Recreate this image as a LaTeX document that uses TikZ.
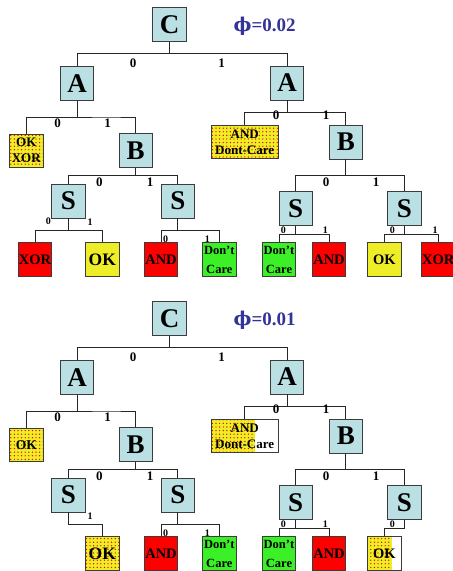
\documentclass[tikz,border=0pt]{standalone}
\usepackage{fontspec}
\setmainfont{Liberation Serif}
\newfontfamily\phifont{DejaVu Serif}
\usetikzlibrary{calc,patterns.meta}
\definecolor{boxblue}{RGB}{186,224,227}
\definecolor{boxborder}{RGB}{60,60,60}
\definecolor{leafred}{RGB}{255,0,0}
\definecolor{leafgreen}{RGB}{60,240,40}
\definecolor{leafyellow}{RGB}{238,238,40}
\definecolor{phiblue}{RGB}{51,51,153}
\newcommand\fs[2]{\fontsize{#1}{#2}\selectfont}
\tikzset{
  varbox/.style={draw=boxborder, line width=0.8pt, fill=boxblue, minimum width=33.5pt,
    minimum height=34pt, inner sep=0pt, font=\fs{27}{27}\bfseries},
  leafbox/.style={draw=boxborder, line width=0.8pt, minimum width=33.4pt, minimum height=34pt,
    inner sep=0pt, align=center, font=\bfseries},
  redleaf/.style={leafbox, fill=leafred},
  greenleaf/.style={leafbox, fill=leafgreen},
  yellowleaf/.style={leafbox, fill=leafyellow},
  dotleaf/.style={leafbox, fill=white, path picture={
      \fill[leafyellow] (path picture bounding box.north west) rectangle
        ($(path picture bounding box.south west)!#1!(path picture bounding box.south east)$);
      \fill[pattern={Dots[distance=3.6pt,radius=0.7pt]}, pattern color=red!90!black]
        (path picture bounding box.north west) rectangle
        ($(path picture bounding box.south west)!#1!(path picture bounding box.south east)$);}},
  dotleaf/.default=1,
  conn/.style={line width=0.8pt, black!85},
  lab/.style={inner sep=0pt, font=\fs{13}{13}\bfseries},
  slab/.style={inner sep=0pt, font=\fs{10}{10}\bfseries},
  philab/.style={inner sep=0pt, text=phiblue, font=\fs{19}{19}\bfseries},
}
\begin{document}
\begin{tikzpicture}[x=1pt,y=-1pt]
\useasboundingbox (0,0) rectangle (453,571);

% ---------------- top tree ----------------
\node[philab] (phiA) at (264.7,26.5) {{\phifont ϕ}=0.02};
\node[varbox] (C)  at (169.5,24.3) {C};
\node[varbox] (A1) at (77,83.3) {A};
\node[varbox] (A2) at (287,83) {A};
\node[dotleaf, minimum width=34pt, minimum height=33.3pt, font=\fs{13}{16}\bfseries] (OX) at (26.3,150.7) {OK\\XOR};
\node[varbox] (B1) at (135.7,150.7) {B};
\node[dotleaf, minimum width=67.3pt, minimum height=33.4pt, font=\fs{13}{16}\bfseries] (ADC) at (244.7,142) {AND\\Dont-Care};
\node[varbox] (B2) at (345.8,142) {B};
\node[varbox] (S11) at (68.5,201) {S};
\node[varbox] (S12) at (177.8,201) {S};
\node[varbox] (S21) at (295.7,208.7) {S};
\node[varbox] (S22) at (404.3,208.7) {S};
\node[redleaf, font=\fs{14.5}{14.5}\bfseries] (X1) at (35,259.5) {XOR};
\node[yellowleaf, font=\fs{17.5}{17.5}\bfseries] (K1) at (102.3,259.5) {OK};
\node[redleaf, font=\fs{14.5}{14.5}\bfseries] (N1) at (161,259.5) {AND};
\node[greenleaf, font=\fs{12.5}{19}\bfseries] (D1) at (219.3,259.5) {Don't\\Care};
\node[greenleaf, font=\fs{12.5}{19}\bfseries] (D2) at (279,259.7) {Don't\\Care};
\node[redleaf, font=\fs{14.5}{14.5}\bfseries] (N2) at (329,259.7) {AND};
\node[yellowleaf, font=\fs{14.5}{14.5}\bfseries] (K2) at (384.3,259.7) {OK};
\node[redleaf, font=\fs{14.5}{14.5}\bfseries] (X2) at (438.3,259.7) {XOR};

\foreach \p/\k in {C/A1,C/A2,A1/OX,A1/B1,A2/ADC,A2/B2,B1/S11,B1/S12,B2/S21,B2/S22,
  S11/X1,S11/K1,S12/N1,S12/D1,S21/D2,S21/N2,S22/K2,S22/X2}
  \draw[conn] (\p.south) |- ($(\p.south)!.5!(\k.north)$) -| (\k.north);

\node[lab] (t1) at (133,63) {0};
\node[lab] (t2) at (221.7,63) {1};
\node[lab] (t3) at (57.7,123) {0};
\node[lab] (t4) at (107.7,123) {1};
\node[lab] (t5) at (276,115) {0};
\node[lab] (t6) at (326,115) {1};
\node[lab] (t7) at (99.3,182.7) {0};
\node[lab] (t8) at (150,182.7) {1};
\node[lab] (t9) at (326,182.7) {0};
\node[lab] (t10) at (376,182.7) {1};
\node[slab] (t11) at (48.3,221.7) {0};
\node[slab] (t12) at (90,221.7) {1};
\node[slab] (t13) at (165.7,239) {0};
\node[slab] (t14) at (207.3,239) {1};
\node[slab] (t15) at (283.3,230) {0};
\node[slab] (t16) at (325.3,230) {1};
\node[slab] (t17) at (392.3,230) {0};
\node[slab] (t18) at (435,230) {1};

% ---------------- bottom tree ----------------
\node[philab] (phiB) at (264.7,320.5) {{\phifont ϕ}=0.01};
\node[varbox] (bC)  at (169.5,318.3) {C};
\node[varbox] (bA1) at (77,377.3) {A};
\node[varbox] (bA2) at (287,377) {A};
\node[dotleaf, minimum width=34pt, minimum height=33.3pt, font=\fs{13.5}{16}\bfseries] (bOX) at (26.3,444.7) {OK};
\node[varbox] (bB1) at (135.7,444.7) {B};
\node[dotleaf=0.65, minimum width=67.3pt, minimum height=33.4pt, font=\fs{13}{16}\bfseries] (bADC) at (244.7,436) {AND\\Dont-Care};
\node[varbox] (bB2) at (345.8,436) {B};
\node[varbox] (bS11) at (68.5,495) {S};
\node[varbox] (bS12) at (177.8,495) {S};
\node[varbox] (bS21) at (295.7,502.7) {S};
\node[varbox] (bS22) at (404.3,502.7) {S};
\node[dotleaf, font=\fs{17.5}{17.5}\bfseries] (bK1) at (102.3,553.5) {OK};
\node[redleaf, font=\fs{14.5}{14.5}\bfseries] (bN1) at (161,553.5) {AND};
\node[greenleaf, font=\fs{12.5}{19}\bfseries] (bD1) at (219.3,553.5) {Don't\\Care};
\node[greenleaf, font=\fs{12.5}{19}\bfseries] (bD2) at (279,553.7) {Don't\\Care};
\node[redleaf, font=\fs{14.5}{14.5}\bfseries] (bN2) at (329,553.7) {AND};
\node[dotleaf=0.72, font=\fs{14.5}{14.5}\bfseries] (bK2) at (384.3,553.7) {OK};

\foreach \p/\k in {bC/bA1,bC/bA2,bA1/bOX,bA1/bB1,bA2/bADC,bA2/bB2,bB1/bS11,bB1/bS12,bB2/bS21,bB2/bS22,
  bS11/bK1,bS12/bN1,bS12/bD1,bS21/bD2,bS21/bN2,bS22/bK2}
  \draw[conn] (\p.south) |- ($(\p.south)!.5!(\k.north)$) -| (\k.north);

\node[lab] (u1) at (133,357) {0};
\node[lab] (u2) at (221.7,357) {1};
\node[lab] (u3) at (57.7,417) {0};
\node[lab] (u4) at (107.7,417) {1};
\node[lab] (u5) at (276,409) {0};
\node[lab] (u6) at (326,409) {1};
\node[lab] (u7) at (99.3,476.7) {0};
\node[lab] (u8) at (150,476.7) {1};
\node[lab] (u9) at (326,476.7) {0};
\node[lab] (u10) at (376,476.7) {1};
\node[slab] (u12) at (90,515.7) {1};
\node[slab] (u13) at (165.7,533) {0};
\node[slab] (u14) at (207.3,533) {1};
\node[slab] (u15) at (283.3,524) {0};
\node[slab] (u16) at (325.3,524) {1};
\node[slab] (u17) at (392.3,524) {0};
\end{tikzpicture}
\end{document}
